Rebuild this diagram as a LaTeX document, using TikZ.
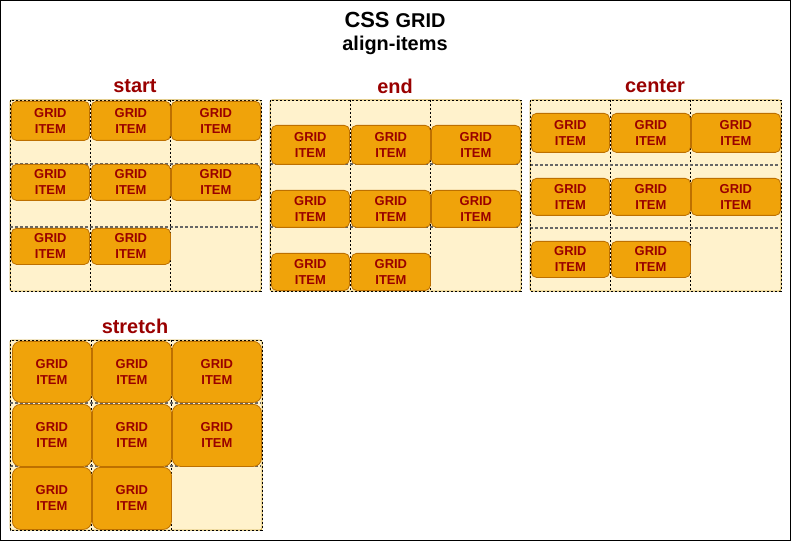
\documentclass[tikz,border=0pt]{standalone}
\usepackage{fontspec}
\setmainfont{Liberation Sans}
\usepackage{xcolor}

\definecolor{panelFill}{HTML}{FFF2CC}
\definecolor{panelLine}{HTML}{D6B656}
\definecolor{itemFill}{HTML}{F0A30A}
\definecolor{itemLine}{HTML}{BD7000}
\definecolor{labelRed}{HTML}{990000}

\tikzset{
  panel/.style={fill=panelFill, draw=panelLine, rounded corners=2bp, line width=1bp},
  panelEdge/.style={draw=black, dashed, line width=0.6bp, dash pattern=on 2bp off 2bp},
  colLine/.style={draw=black, line width=0.6bp, dash pattern=on 2bp off 2bp},
  rowLine/.style={draw=black!60, line width=1.2bp, dash pattern=on 3bp off 2bp},
  gridItem/.style={draw=itemLine, fill=itemFill, rounded corners=5bp, anchor=north west,
    inner sep=0pt, align=center, text=labelRed, line width=0.8bp,
    font=\bfseries\fontsize{13}{16}\selectfont},
  tallItem/.style={gridItem, rounded corners=8bp},
  panelTitle/.style={text=labelRed, font=\bfseries\fontsize{20}{24}\selectfont}
}

\begin{document}
\begin{tikzpicture}[x=1bp,y=-1bp]
\useasboundingbox (0,0) rectangle (791,541);
\draw[line width=1bp] (0.5,0.5) rectangle (790.5,540.5);

% title
\node (title) at (395,20) {\bfseries\fontsize{22}{26}\selectfont CSS \fontsize{20}{26}\selectfont GRID};
\node (subtitle) at (395,45) {\bfseries\fontsize{20}{24}\selectfont align-items};

% start
\node[panelTitle] (startLabel) at (135,86) {start};
\draw[panel] (10,100) rectangle (261,291);
\draw[colLine] (90,100) -- (90,291) (170,100) -- (170,291);
\draw[rowLine] (10,164) -- (260,164) (10,227) -- (260,227);
\draw[panelEdge] (10,100) rectangle (261,291);
\node[gridItem, minimum width=78bp, minimum height=39bp] (startA) at (11,101) {GRID\\ITEM};
\node[gridItem, minimum width=79bp, minimum height=39bp] (startB) at (91,101) {GRID\\ITEM};
\node[gridItem, minimum width=89bp, minimum height=39bp] (startC) at (171,101) {GRID\\ITEM};
\node[gridItem, minimum width=78bp, minimum height=36bp] (startD) at (11,164) {GRID\\ITEM};
\node[gridItem, minimum width=79bp, minimum height=36bp] (startE) at (91,164) {GRID\\ITEM};
\node[gridItem, minimum width=89bp, minimum height=36bp] (startF) at (171,164) {GRID\\ITEM};
\node[gridItem, minimum width=78bp, minimum height=36bp] (startG) at (11,228) {GRID\\ITEM};
\node[gridItem, minimum width=79bp, minimum height=36bp] (startH) at (91,228) {GRID\\ITEM};

% end
\node[panelTitle] (endLabel) at (395,86) {end};
\draw[panel] (270,100) rectangle (521,291);
\draw[colLine] (350,100) -- (350,291) (430,100) -- (430,291);
\draw[rowLine] (270,164) -- (520,164) (270,227) -- (520,227);
\draw[panelEdge] (270,100) rectangle (521,291);
\node[gridItem, minimum width=78bp, minimum height=39bp] (endA) at (271,125) {GRID\\ITEM};
\node[gridItem, minimum width=79bp, minimum height=39bp] (endB) at (351,125) {GRID\\ITEM};
\node[gridItem, minimum width=89bp, minimum height=39bp] (endC) at (431,125) {GRID\\ITEM};
\node[gridItem, minimum width=78bp, minimum height=37bp] (endD) at (271,190) {GRID\\ITEM};
\node[gridItem, minimum width=79bp, minimum height=37bp] (endE) at (351,190) {GRID\\ITEM};
\node[gridItem, minimum width=89bp, minimum height=37bp] (endF) at (431,190) {GRID\\ITEM};
\node[gridItem, minimum width=78bp, minimum height=37bp] (endG) at (271,253) {GRID\\ITEM};
\node[gridItem, minimum width=79bp, minimum height=37bp] (endH) at (351,253) {GRID\\ITEM};

% center
\node[panelTitle] (centerLabel) at (655,86) {center};
\draw[panel] (530,100) rectangle (781,291);
\draw[colLine] (610,100) -- (610,291) (690,100) -- (690,291);
\draw[rowLine] (530,165) -- (780,165) (530,228) -- (780,228);
\draw[panelEdge] (530,100) rectangle (781,291);
\node[gridItem, minimum width=78bp, minimum height=39bp] (centerA) at (531,113) {GRID\\ITEM};
\node[gridItem, minimum width=79bp, minimum height=39bp] (centerB) at (611,113) {GRID\\ITEM};
\node[gridItem, minimum width=89bp, minimum height=39bp] (centerC) at (691,113) {GRID\\ITEM};
\node[gridItem, minimum width=78bp, minimum height=37bp] (centerD) at (531,178) {GRID\\ITEM};
\node[gridItem, minimum width=79bp, minimum height=37bp] (centerE) at (611,178) {GRID\\ITEM};
\node[gridItem, minimum width=89bp, minimum height=37bp] (centerF) at (691,178) {GRID\\ITEM};
\node[gridItem, minimum width=78bp, minimum height=36bp] (centerG) at (531,241) {GRID\\ITEM};
\node[gridItem, minimum width=79bp, minimum height=36bp] (centerH) at (611,241) {GRID\\ITEM};

% stretch
\node[panelTitle] (stretchLabel) at (135,326) {stretch};
\draw[panel] (10,340) rectangle (262,530);
\draw[colLine] (91,340) -- (91,530) (171,340) -- (171,530);
\draw[rowLine] (10,403) -- (261,403) (10,466) -- (261,466);
\draw[panelEdge] (10,340) rectangle (262,530);
\node[tallItem, minimum width=79bp, minimum height=61bp] (stretchA) at (12,341) {GRID\\ITEM};
\node[tallItem, minimum width=79bp, minimum height=61bp] (stretchB) at (92,341) {GRID\\ITEM};
\node[tallItem, minimum width=89bp, minimum height=61bp] (stretchC) at (172,341) {GRID\\ITEM};
\node[tallItem, minimum width=79bp, minimum height=62bp] (stretchD) at (12,404) {GRID\\ITEM};
\node[tallItem, minimum width=79bp, minimum height=62bp] (stretchE) at (92,404) {GRID\\ITEM};
\node[tallItem, minimum width=89bp, minimum height=62bp] (stretchF) at (172,404) {GRID\\ITEM};
\node[tallItem, minimum width=79bp, minimum height=62bp] (stretchG) at (12,467) {GRID\\ITEM};
\node[tallItem, minimum width=79bp, minimum height=62bp] (stretchH) at (92,467) {GRID\\ITEM};
\end{tikzpicture}
\end{document}
